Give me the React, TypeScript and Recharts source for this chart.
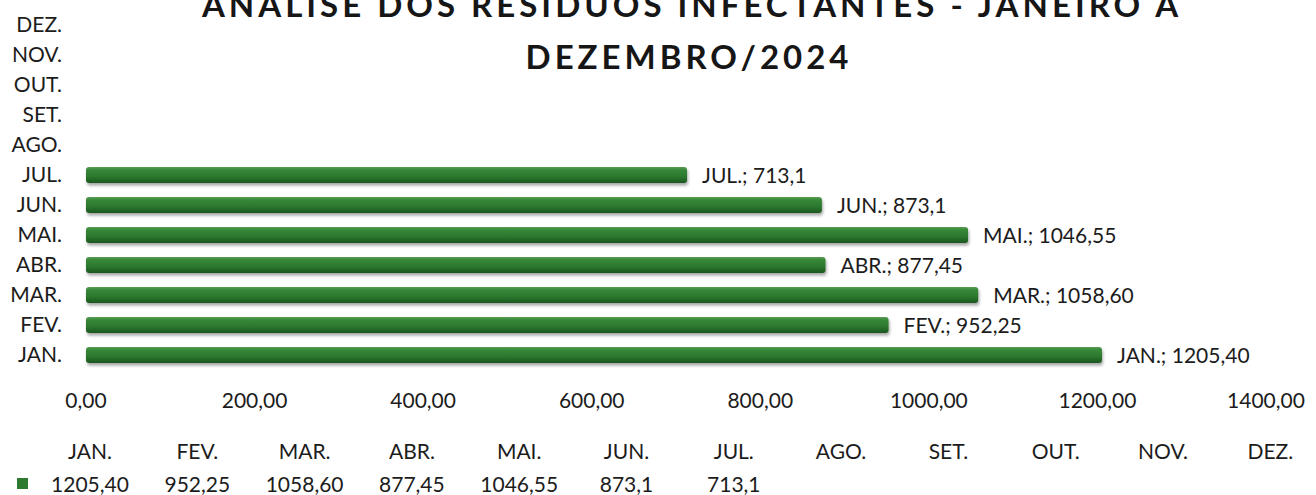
import React from 'react';
import { BarChart, Bar, XAxis, YAxis, LabelList } from 'recharts';

const months: string[] = ['JAN.', 'FEV.', 'MAR.', 'ABR.', 'MAI.', 'JUN.', 'JUL.', 'AGO.', 'SET.', 'OUT.', 'NOV.', 'DEZ.'];
const values: (number | null)[] = [1205.4, 952.25, 1058.6, 877.45, 1046.55, 873.1, 713.1, null, null, null, null, null];
const valueLabels: string[] = ['1205,40', '952,25', '1058,60', '877,45', '1046,55', '873,1', '713,1', '', '', '', '', ''];
const xTicks: number[] = [0, 200, 400, 600, 800, 1000, 1200, 1400];
const titleLines: string[] = ['ANALISE DOS RESIDUOS INFECTANTES - JANEIRO A', 'DEZEMBRO/2024'];

const data = months.map((m, i) => ({
  month: m,
  value: values[i],
  label: values[i] == null ? null : `${m}; ${valueLabels[i]}`,
}));

const FONT = 'Lato, "Open Sans", sans-serif';
const TEXT = '#1c1c1c';
const GREEN = '#2e7a31';

const fmtTick = (v: number) => v.toFixed(2).replace('.', ',');

const renderLabel = (props: any) => {
  const { x, y, width, height, value } = props;
  if (value == null || value === '') return null;
  return (
    <text
      x={Number(x) + Number(width) + 15}
      y={Number(y) + Number(height) / 2}
      dy="0.36em"
      fill={TEXT}
      fontSize={21}
      fontFamily={FONT}
      textAnchor="start"
    >
      {value}
    </text>
  );
};

export default function App() {
  const colStart = 90;
  const colStep = 107.3;
  return (
    <div style={{ position: 'absolute', left: 0, top: 0, width: 1316, height: 495, background: '#fff', overflow: 'hidden' }}>
      <div style={{ position: 'absolute', left: 0, top: 0 }}>
        <BarChart
          width={1316}
          height={425}
          layout="vertical"
          data={data}
          margin={{ top: 10, right: 50, left: 0, bottom: 15 }}
          barSize={16}
        >
          <defs>
            <linearGradient id="barGrad" x1="0" y1="0" x2="0" y2="1">
              <stop offset="0%" stopColor="#5a9c55" />
              <stop offset="18%" stopColor="#378838" />
              <stop offset="60%" stopColor="#2b782e" />
              <stop offset="100%" stopColor="#1c561f" />
            </linearGradient>
            <filter id="barShadow" x="-5%" y="-50%" width="110%" height="200%">
              <feDropShadow dx="1" dy="2.5" stdDeviation="1.5" floodColor="#000" floodOpacity="0.35" />
            </filter>
          </defs>
          <XAxis
            type="number"
            domain={[0, 1400]}
            ticks={xTicks}
            tickFormatter={fmtTick}
            axisLine={false}
            tickLine={false}
            tickSize={0}
            tickMargin={23}
            height={40}
            interval={0}
            tick={{ fontSize: 21, fill: TEXT, fontFamily: FONT }}
          />
          <YAxis
            type="category"
            dataKey="month"
            reversed
            width={86}
            axisLine={false}
            tickLine={false}
            tickSize={0}
            tickMargin={24}
            interval={0}
            tick={{ fontSize: 21, fill: TEXT, fontFamily: FONT }}
          />
          <Bar dataKey="value" fill="url(#barGrad)" radius={3} isAnimationActive={false} filter="url(#barShadow)">
            <LabelList dataKey="label" content={renderLabel} />
          </Bar>
        </BarChart>
      </div>
      <svg width={1316} height={495} style={{ position: 'absolute', left: 0, top: 0, pointerEvents: 'none' }}>
        <text x={692} y={17} textAnchor="middle" fontFamily={FONT} fontWeight={700} fontSize={33} letterSpacing={4} fill="#161616">
          {titleLines[0]}
        </text>
        <text x={689} y={69} textAnchor="middle" fontFamily={FONT} fontWeight={700} fontSize={33} letterSpacing={4} fill="#161616">
          {titleLines[1]}
        </text>
        {months.map((m, i) => (
          <text key={'h' + m} x={colStart + i * colStep} y={459} textAnchor="middle" fontFamily={FONT} fontSize={21} fill={TEXT}>
            {m}
          </text>
        ))}
        <rect x={17} y={478} width={11} height={11} fill={GREEN} />
        {valueLabels.map((v, i) => (
          <text key={'v' + i} x={colStart + i * colStep} y={492} textAnchor="middle" fontFamily={FONT} fontSize={21} fill={TEXT}>
            {v}
          </text>
        ))}
      </svg>
    </div>
  );
}
